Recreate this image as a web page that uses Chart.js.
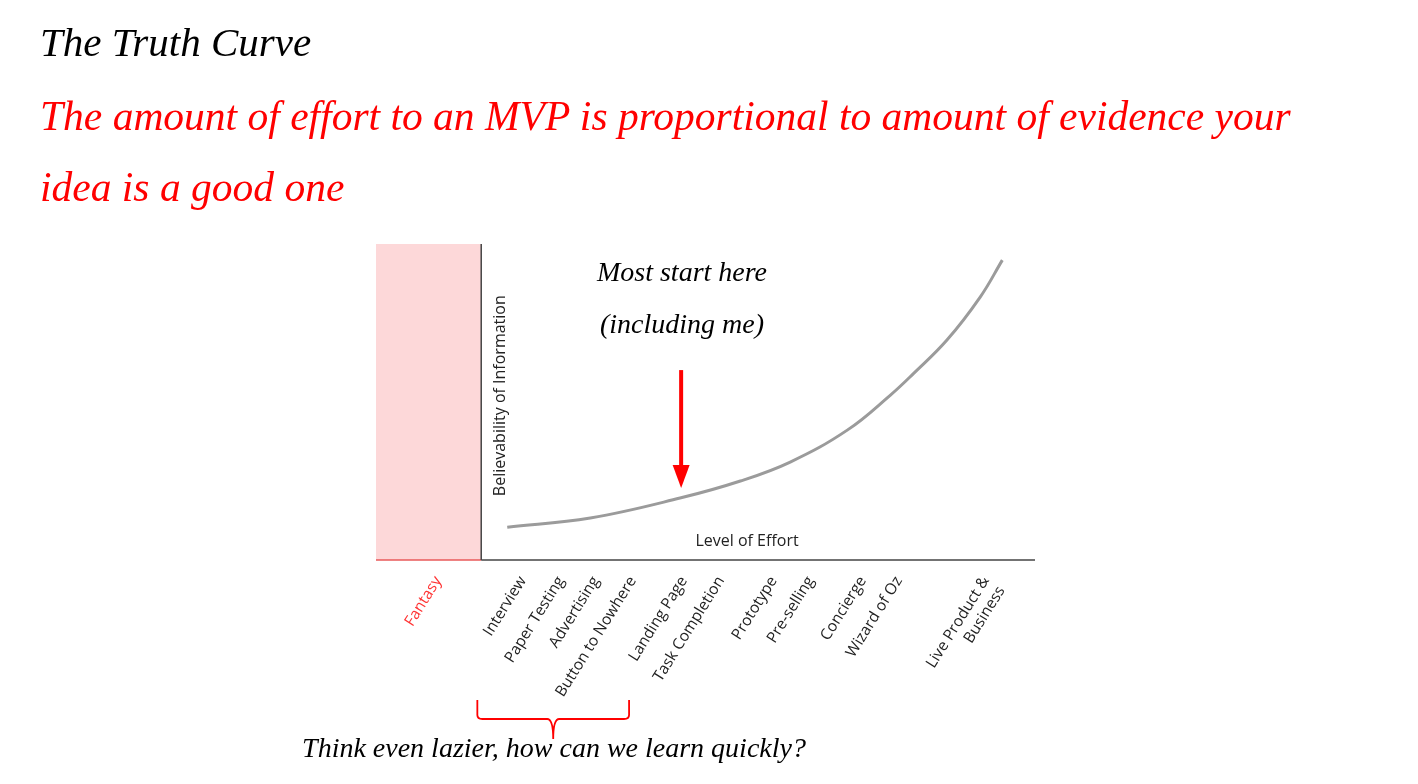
<!DOCTYPE html>
<html><head><meta charset="utf-8">
<script src="https://cdn.jsdelivr.net/npm/chart.js@4.4.1/dist/chart.umd.min.js"></script>
<style>
html,body{margin:0;padding:0;background:#fff;width:1418px;height:784px;overflow:hidden;}
#wrap{position:relative;width:1418px;height:784px;}
canvas{position:absolute;left:0;top:0;}
.t{position:absolute;font-family:"Liberation Serif",serif;font-style:italic;white-space:nowrap;line-height:1;}
.c{transform:translateX(-50%);}
</style></head><body>
<div id="wrap">
<canvas id="c" width="1418" height="784"></canvas>
<div class="t" style="left:40px;top:22px;font-size:41px;color:#000">The Truth Curve</div>
<div class="t" style="left:40px;top:96px;font-size:41.5px;color:#f00">The amount of effort to an MVP is proportional to amount of evidence your</div>
<div class="t" style="left:40px;top:167px;font-size:41.5px;color:#f00">idea is a good one</div>
<div class="t c" style="left:682px;top:258px;font-size:28px;color:#000">Most start here</div>
<div class="t c" style="left:682px;top:310px;font-size:28px;color:#000">(including me)</div>
<div class="t c" style="left:554px;top:734px;font-size:28px;color:#000">Think even lazier, how can we learn quickly?</div>
</div>
<script>
// Data
const curveX = [4.7, 19.7, 35.9, 46.8, 55.8, 66.1, 73.9, 78.0, 84.1, 90.1, 94.1];
const curveY = [10.4, 13.3, 19.6, 25.0, 31.0, 41.1, 52.2, 58.9, 69.6, 83.2, 94.9];
const fantasyX = [-19, 0];
const fantasyY = [100, 100];
const tickValues = [-7.8, 7.5, 14.4, 20.7, 27.4, 36.6, 43.3, 52.8, 59.5, 68.9, 75.4, 91.1];
const tickLabels = ['Fantasy', 'Interview', 'Paper Testing', 'Advertising', 'Button to Nowhere',
  'Landing Page', 'Task Completion', 'Prototype', 'Pre-selling', 'Concierge', 'Wizard of Oz',
  ['Live Product &', 'Business']];
const axisTitleX = 'Level of Effort';
const axisTitleY = 'Believability of Information';

const SANS = '"Open Sans", Lato, sans-serif';

const decor = {
  id: 'decor',
  afterDatasetsDraw(chart) {
    const ctx = chart.ctx, ca = chart.chartArea;
    const xs = chart.scales.x, ys = chart.scales.y;
    const x0 = xs.getPixelForValue(0);
    ctx.save();
    // axes
    ctx.lineWidth = 1.5;
    ctx.strokeStyle = '#e85a5a';
    ctx.beginPath(); ctx.moveTo(ca.left, ca.bottom); ctx.lineTo(x0, ca.bottom); ctx.stroke();
    ctx.strokeStyle = '#444';
    ctx.beginPath(); ctx.moveTo(x0, ca.bottom); ctx.lineTo(ca.right, ca.bottom); ctx.stroke();
    ctx.beginPath(); ctx.moveTo(x0, ca.top); ctx.lineTo(x0, ca.bottom); ctx.stroke();
    // axis titles
    ctx.fillStyle = '#222';
    ctx.font = '16px ' + SANS;
    ctx.textAlign = 'center'; ctx.textBaseline = 'middle';
    ctx.fillText(axisTitleX, xs.getPixelForValue(48), ca.bottom - 19);
    ctx.save();
    ctx.translate(x0 + 19, ys.getPixelForValue(52));
    ctx.rotate(-Math.PI / 2);
    ctx.fillText(axisTitleY, 0, 0);
    ctx.restore();
    // arrow
    const ax = xs.getPixelForValue(36.1);
    const aTop = ys.getPixelForValue(60.1), aTip = ys.getPixelForValue(22.8);
    ctx.strokeStyle = '#f00'; ctx.fillStyle = '#f00';
    ctx.lineWidth = 4;
    ctx.beginPath(); ctx.moveTo(ax, aTop); ctx.lineTo(ax, aTip - 20); ctx.stroke();
    ctx.beginPath(); ctx.moveTo(ax - 8.5, aTip - 23); ctx.lineTo(ax + 8.5, aTip - 23); ctx.lineTo(ax, aTip); ctx.closePath(); ctx.fill();
    // brace
    const bl = xs.getPixelForValue(-0.7), br = xs.getPixelForValue(26.7), bm = (bl + br) / 2;
    const yT = ca.bottom + 140, yH = ca.bottom + 159, yB = ca.bottom + 179;
    ctx.lineWidth = 1.8;
    ctx.beginPath();
    ctx.moveTo(bl, yT);
    ctx.lineTo(bl, yH - 4);
    ctx.quadraticCurveTo(bl, yH, bl + 5, yH);
    ctx.lineTo(bm - 6, yH);
    ctx.quadraticCurveTo(bm, yH, bm, yB);
    ctx.quadraticCurveTo(bm, yH, bm + 6, yH);
    ctx.lineTo(br - 5, yH);
    ctx.quadraticCurveTo(br, yH, br, yH - 4);
    ctx.lineTo(br, yT);
    ctx.stroke();
    ctx.restore();
  }
};

new Chart(document.getElementById('c'), {
  type: 'line',
  data: {
    datasets: [
      {
        data: fantasyX.map((x, i) => ({x, y: fantasyY[i]})),
        fill: 'origin', backgroundColor: '#fdd8d9', borderWidth: 0, pointRadius: 0, order: 2
      },
      {
        data: curveX.map((x, i) => ({x, y: curveY[i]})),
        borderColor: '#9b9b9b', borderWidth: 3, pointRadius: 0,
        tension: 0.4, fill: false, order: 1
      }
    ]
  },
  options: {
    responsive: false, animation: false,
    layout: {padding: {left: 376, right: 383, top: 244, bottom: 0}},
    plugins: {legend: {display: false}, tooltip: {enabled: false}},
    scales: {
      x: {
        type: 'linear', min: -19, max: 100,
        grid: {display: false, drawTicks: false},
        border: {display: false},
        afterBuildTicks: (s) => { s.ticks = tickValues.map(v => ({value: v})); },
        afterFit: (s) => { s.height = 224; },
        ticks: {
          autoSkip: false, minRotation: 58, maxRotation: 58, padding: 13,
          font: {family: SANS, size: 15.5}, color: (c) => c.index === 0 ? '#f33' : '#222',
          callback: (v, i) => tickLabels[i]
        }
      },
      y: {min: 0, max: 100, display: false}
    }
  },
  plugins: [decor]
});
</script>
</body></html>
